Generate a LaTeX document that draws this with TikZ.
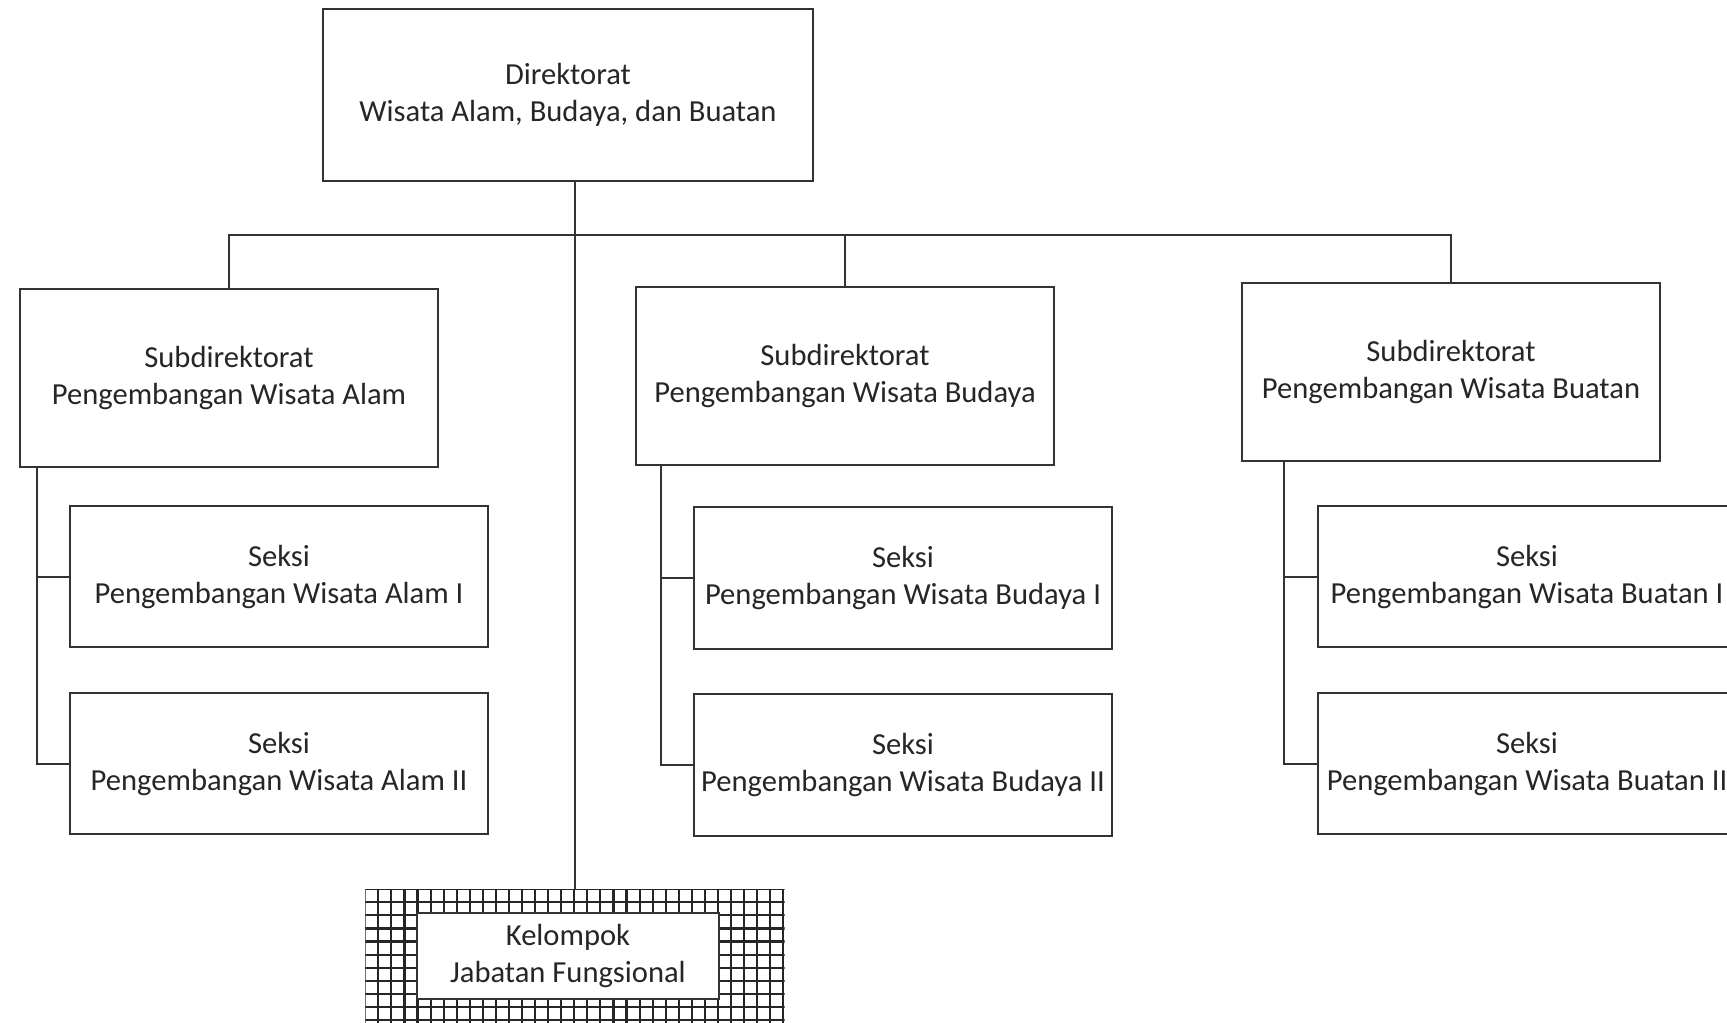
\documentclass[tikz,border=0pt]{standalone}
\usepackage{fontspec}
\setmainfont{Carlito}
\usetikzlibrary{positioning}

\begin{document}
\begin{tikzpicture}[
        blk/.style={rectangle, draw=black!80, line width=0.6pt, fill=white,
                    minimum width=41.8mm, inner xsep=0.4mm, align=center, text=black!85,
                    font=\fontsize{8.7}{10.5}\selectfont},
        sub/.style={blk, minimum height=17.8mm},
        seksi/.style={blk, minimum height=14.1mm},
        con/.style={draw=black!80, line width=0.6pt},
        gridline/.style={draw=black!85, line width=0.6pt},
    ]
    \clip (0,0) rectangle (17.27,10.22);
    \fill[white] (0,0) rectangle (17.27,10.22);

    % kelompok jabatan fungsional (grid box)
    \node[rectangle, fill=white, minimum width=41.8mm, minimum height=14mm, inner sep=0pt] (kel) at (5.75,0.62) {};
    \begin{scope}
        \clip (kel.south west) rectangle (kel.north east);
        \foreach \i in {0,...,32}
            \draw[gridline] ([xshift=\i*1.3062mm]kel.north west) -- ([xshift=\i*1.3062mm]kel.south west);
        \foreach \j in {0,...,11}
            \draw[gridline] ([yshift=-\j*1.3062mm]kel.north west) -- ([yshift=-\j*1.3062mm]kel.north east);
    \end{scope}
    \node[blk, minimum width=30.2mm, minimum height=8.4mm] (jab) at (5.68,0.66) {Kelompok\\Jabatan Fungsional};

    \node[blk, minimum width=49mm, minimum height=17.2mm] (dir) at (5.68,9.27) {Direktorat\\Wisata Alam, Budaya, dan Buatan};

    \node[sub] (subA) at (2.29,6.44)  {Subdirektorat\\Pengembangan Wisata Alam};
    \node[sub] (subB) at (8.45,6.46)  {Subdirektorat\\Pengembangan Wisata Budaya};
    \node[sub] (subC) at (14.51,6.50) {Subdirektorat\\Pengembangan Wisata Buatan};

    \node[seksi, below right=3.7mm and 5mm of subA.south west, anchor=north west] (secA1) {Seksi\\Pengembangan Wisata Alam I};
    \node[seksi, below=4.4mm of secA1] (secA2) {Seksi\\Pengembangan Wisata Alam II};
    \node[seksi, minimum height=14.2mm, below right=4mm and 5.8mm of subB.south west, anchor=north west] (secB1) {Seksi\\Pengembangan Wisata Budaya I};
    \node[seksi, minimum height=14.2mm, below=4.3mm of secB1] (secB2) {Seksi\\Pengembangan Wisata Budaya II};
    \node[seksi, below right=4.3mm and 7.6mm of subC.south west, anchor=north west] (secC1) {Seksi\\Pengembangan Wisata Buatan I};
    \node[seksi, below=4.4mm of secC1] (secC2) {Seksi\\Pengembangan Wisata Buatan II};

    \coordinate (bus) at (5.74,7.87);
    \coordinate (spA) at (0.37,5.55);
    \coordinate (spB) at (6.61,5.57);
    \coordinate (spC) at (12.84,5.61);

    \draw[con] (dir.south -| kel.north) -- (kel.north);
    \draw[con] (subA.north) |- (bus -| subC.north) -- (subC.north);
    \draw[con] (subB.north) -- (subB.north |- bus);

    \draw[con] (spA) |- (secA2.west);
    \draw[con] (spA |- secA1.west) -- (secA1.west);
    \draw[con] (spB) |- (secB2.west);
    \draw[con] (spB |- secB1.west) -- (secB1.west);
    \draw[con] (spC) |- (secC2.west);
    \draw[con] (spC |- secC1.west) -- (secC1.west);
\end{tikzpicture}
\end{document}
